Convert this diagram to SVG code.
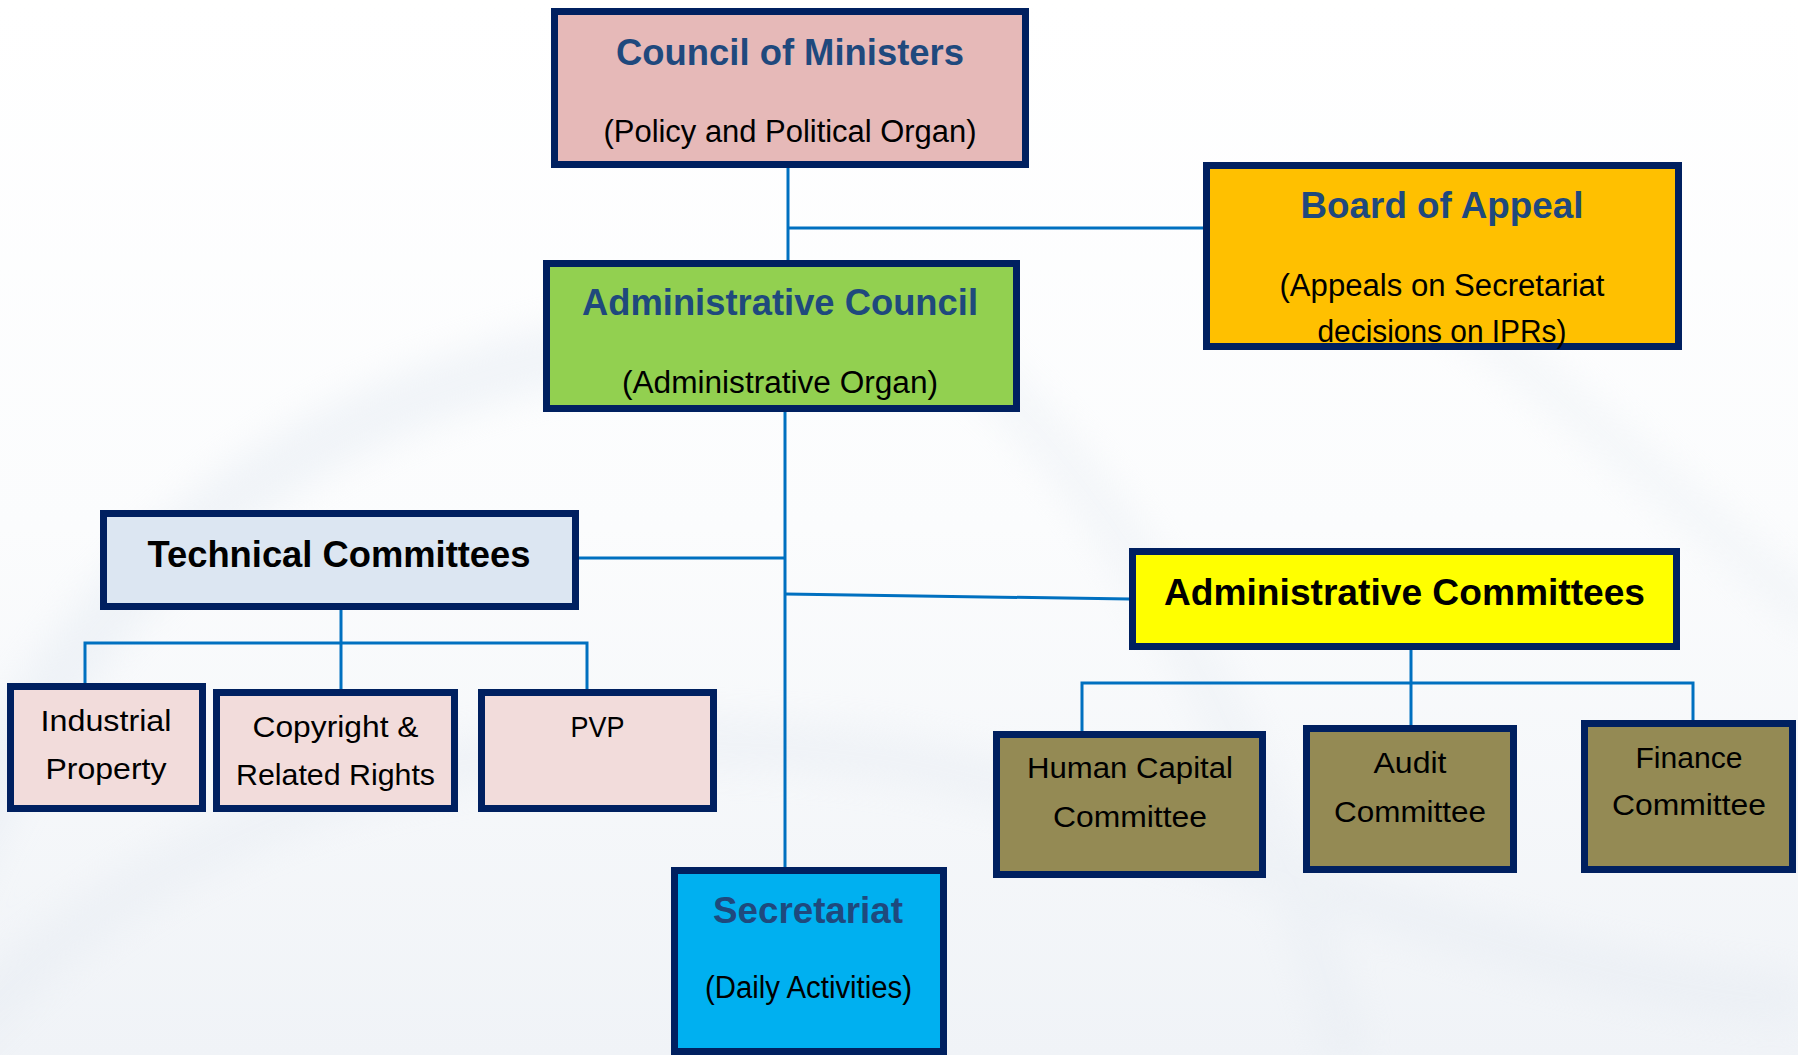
<svg xmlns="http://www.w3.org/2000/svg" width="1798" height="1055" viewBox="0 0 1798 1055">
  <defs>
    <filter id="blur" x="-20%" y="-20%" width="140%" height="140%">
      <feGaussianBlur stdDeviation="18"/>
    </filter>
    <linearGradient id="bg" x1="0" y1="0" x2="0" y2="1">
      <stop offset="0" stop-color="#FFFFFF"/>
      <stop offset="0.5" stop-color="#FBFCFD"/>
      <stop offset="1" stop-color="#F0F3F7"/>
    </linearGradient>
  </defs>
  <style>
    .box { stroke: #002060; stroke-width: 7; }
    .conn { fill: none; stroke: #0070C0; stroke-width: 3; }
    .title { font-family: "Liberation Sans", Arial, sans-serif; font-weight: bold; font-size: 36px; fill: #1F497D; text-anchor: middle; }
    .btitle { font-family: "Liberation Sans", Arial, sans-serif; font-weight: bold; font-size: 36px; fill: #000000; text-anchor: middle; }
    .sub { font-family: "Liberation Sans", Arial, sans-serif; font-size: 31px; fill: #000000; text-anchor: middle; }
    .small { font-family: "Liberation Sans", Arial, sans-serif; font-size: 30px; fill: #000000; text-anchor: middle; }
  </style>

  <!-- background -->
  <rect x="0" y="0" width="1798" height="1055" fill="url(#bg)"/>
  <g fill="none" filter="url(#blur)" opacity="0.35">
    <path d="M-60 900 C 80 560, 300 380, 700 330" stroke="#DCE4EE" stroke-width="60"/>
    <path d="M-80 1080 C 150 800, 500 700, 900 760 C 1200 820, 1500 980, 1800 1000" stroke="#E2E8F0" stroke-width="50"/>
    <path d="M900 300 C 1100 450, 1250 700, 1350 1060" stroke="#E4EAF1" stroke-width="45"/>
    <path d="M1300 200 C 1500 330, 1700 520, 1820 620" stroke="#E6ECF2" stroke-width="40"/>
  </g>

  <!-- connectors -->
  <g id="connectors">
    <path class="conn" d="M788 166 V261"/>
    <path class="conn" d="M788 228 H1205"/>
    <path class="conn" d="M785 411 V869"/>
    <path class="conn" d="M578 558 H785"/>
    <path class="conn" d="M785 594 L1130 599"/>
    <path class="conn" d="M341 609 V690"/>
    <path class="conn" d="M85 684 V643 H587 V690"/>
    <path class="conn" d="M1411 649 V727"/>
    <path class="conn" d="M1082 733 V683 H1693 V722"/>
  </g>

  <g id="council-of-ministers">
    <rect class="box" x="554.5" y="11.5" width="471" height="153" fill="#E6B9B8"/>
    <text class="title" x="790" y="65" textLength="348" lengthAdjust="spacingAndGlyphs">Council of Ministers</text>
    <text class="sub" x="790" y="142" textLength="373" lengthAdjust="spacingAndGlyphs">(Policy and Political Organ)</text>
  </g>

  <g id="board-of-appeal">
    <rect class="box" x="1206.5" y="165.5" width="472" height="181" fill="#FFC000"/>
    <text class="title" x="1442" y="218" textLength="283" lengthAdjust="spacingAndGlyphs">Board of Appeal</text>
    <text class="sub" x="1442" y="296" textLength="325" lengthAdjust="spacingAndGlyphs">(Appeals on Secretariat</text>
    <text class="sub" x="1442" y="342" textLength="249" lengthAdjust="spacingAndGlyphs">decisions on IPRs)</text>
  </g>

  <g id="administrative-council">
    <rect class="box" x="546.5" y="263.5" width="470" height="145" fill="#92D050"/>
    <text class="title" x="780" y="315" textLength="396" lengthAdjust="spacingAndGlyphs">Administrative Council</text>
    <text class="sub" x="780" y="393" textLength="316" lengthAdjust="spacingAndGlyphs">(Administrative Organ)</text>
  </g>

  <g id="technical-committees">
    <rect class="box" x="103.5" y="513.5" width="472" height="93" fill="#DCE6F2"/>
    <text class="btitle" x="339" y="567" textLength="383" lengthAdjust="spacingAndGlyphs">Technical Committees</text>
  </g>

  <g id="administrative-committees">
    <rect class="box" x="1132.5" y="551.5" width="544" height="95" fill="#FFFF00"/>
    <text class="btitle" x="1404.5" y="605" textLength="481" lengthAdjust="spacingAndGlyphs">Administrative Committees</text>
  </g>

  <g id="industrial-property">
    <rect class="box" x="10.5" y="686.5" width="192" height="122" fill="#F2DCDB"/>
    <text class="small" x="106" y="731" textLength="131" lengthAdjust="spacingAndGlyphs">Industrial</text>
    <text class="small" x="106" y="779" textLength="121" lengthAdjust="spacingAndGlyphs">Property</text>
  </g>

  <g id="copyright">
    <rect class="box" x="216.5" y="692.5" width="238" height="116" fill="#F2DCDB"/>
    <text class="small" x="335.5" y="737" textLength="166" lengthAdjust="spacingAndGlyphs">Copyright &amp;</text>
    <text class="small" x="335.5" y="785" textLength="199" lengthAdjust="spacingAndGlyphs">Related Rights</text>
  </g>

  <g id="pvp">
    <rect class="box" x="481.5" y="692.5" width="232" height="116" fill="#F2DCDB"/>
    <text class="small" x="597.5" y="737" textLength="54" lengthAdjust="spacingAndGlyphs">PVP</text>
  </g>

  <g id="human-capital-committee">
    <rect class="box" x="996.5" y="734.5" width="266" height="140" fill="#948A54"/>
    <text class="small" x="1130" y="778" textLength="206" lengthAdjust="spacingAndGlyphs">Human Capital</text>
    <text class="small" x="1130" y="827" textLength="154" lengthAdjust="spacingAndGlyphs">Committee</text>
  </g>

  <g id="audit-committee">
    <rect class="box" x="1306.5" y="728.5" width="207" height="141" fill="#948A54"/>
    <text class="small" x="1410" y="773" textLength="73" lengthAdjust="spacingAndGlyphs">Audit</text>
    <text class="small" x="1410" y="822" textLength="152" lengthAdjust="spacingAndGlyphs">Committee</text>
  </g>

  <g id="finance-committee">
    <rect class="box" x="1584.5" y="723.5" width="208" height="146" fill="#948A54"/>
    <text class="small" x="1689" y="768" textLength="107" lengthAdjust="spacingAndGlyphs">Finance</text>
    <text class="small" x="1689" y="815" textLength="154" lengthAdjust="spacingAndGlyphs">Committee</text>
  </g>

  <g id="secretariat">
    <rect class="box" x="674.5" y="870.5" width="269" height="181" fill="#00B0F0"/>
    <text class="title" x="808" y="923" textLength="190" lengthAdjust="spacingAndGlyphs">Secretariat</text>
    <text class="sub" x="808.5" y="998" textLength="207" lengthAdjust="spacingAndGlyphs">(Daily Activities)</text>
  </g>
</svg>
